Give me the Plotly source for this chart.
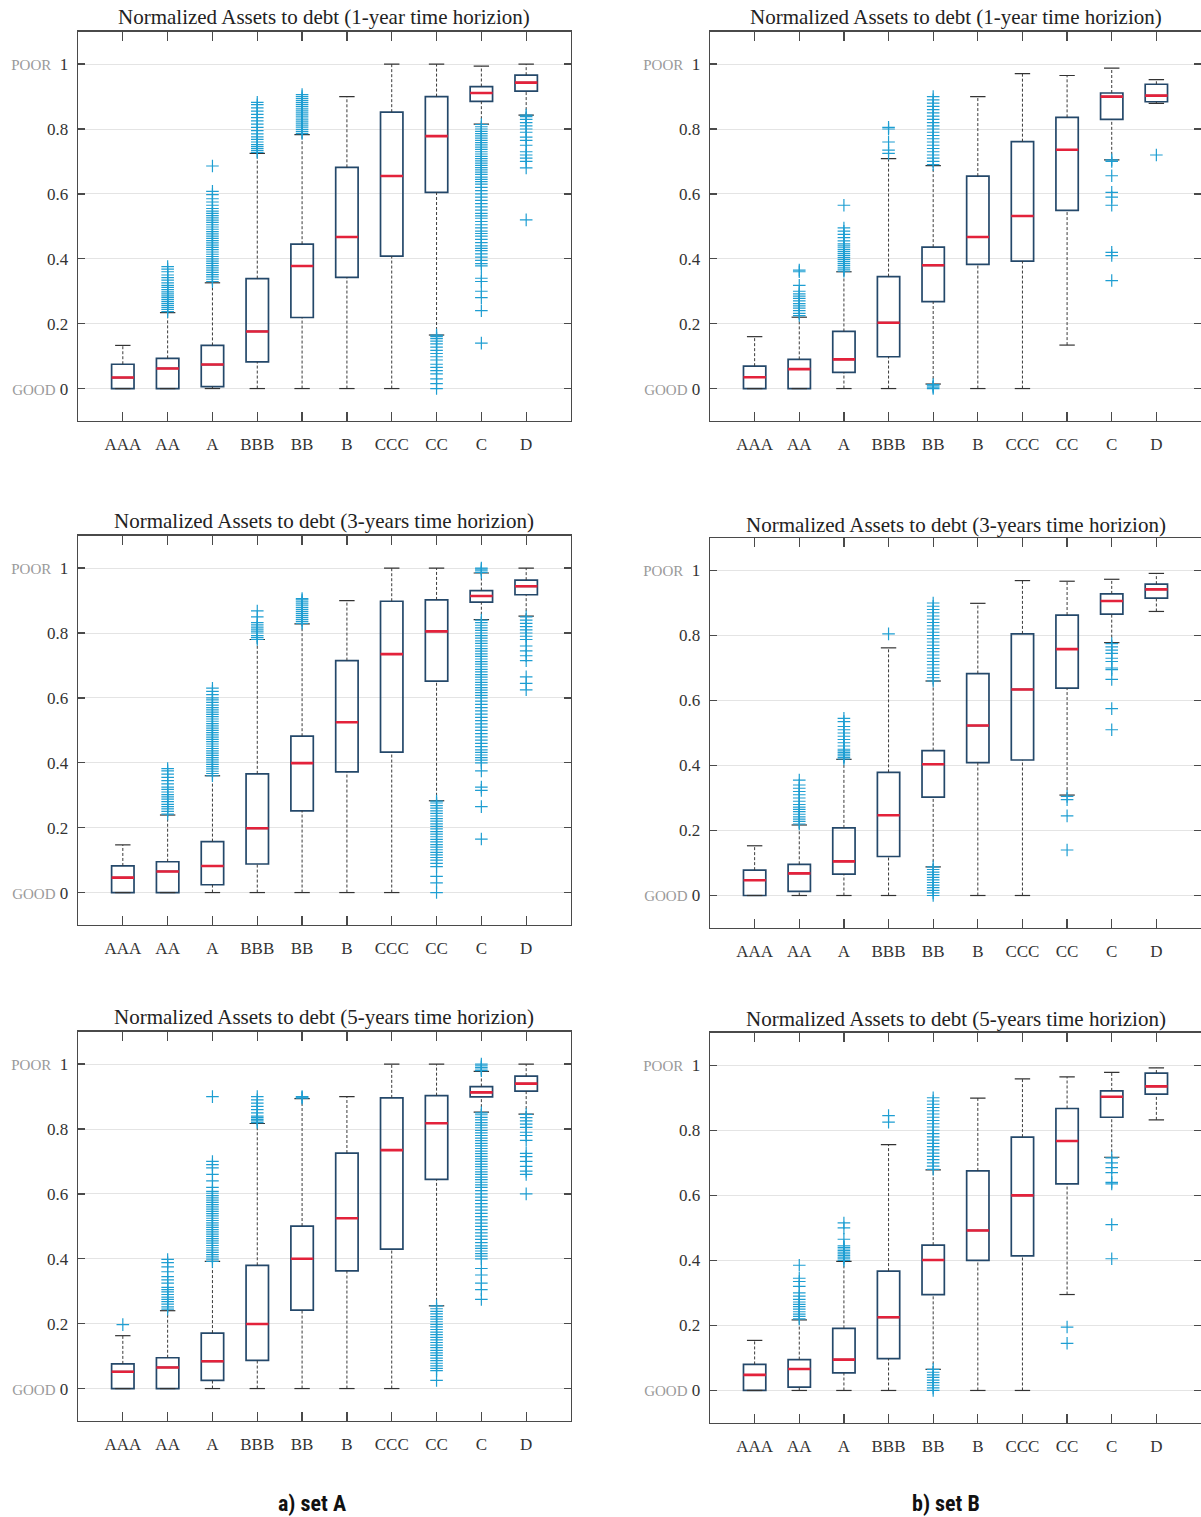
import plotly.graph_objects as go

W, H = 1201, 1517

cats = ["AAA", "AA", "A", "BBB", "BB", "B", "CCC", "CC", "C", "D"]
ytick_vals = [0, 0.2, 0.4, 0.6, 0.8, 1]
ytick_text = ["<span style='color:#9a9a9a;font-size:15px'>GOOD</span> 0", "0.2", "0.4", "0.6", "0.8",
              "<span style='color:#9a9a9a;font-size:15px'>POOR</span>  1"]

# ---------------- set A, 1-year ----------------
A1_lo = [0, 0, 0, 0, 0, 0, 0, 0.165, 0.815, 0.843]
A1_q1 = [0, 0, 0.006, 0.082, 0.219, 0.343, 0.408, 0.605, 0.885, 0.917]
A1_med = [0.034, 0.062, 0.074, 0.176, 0.378, 0.467, 0.655, 0.778, 0.911, 0.943]
A1_q3 = [0.075, 0.093, 0.133, 0.339, 0.445, 0.682, 0.852, 0.900, 0.931, 0.966]
A1_hi = [0.133, 0.234, 0.326, 0.725, 0.783, 0.900, 1.0, 1.0, 0.994, 1.0]
A1_out = {
    "AA": [0.237, 0.244, 0.25, 0.256, 0.262, 0.268, 0.274, 0.28, 0.286, 0.292, 0.298, 0.305, 0.312, 0.318,
           0.326, 0.334, 0.342, 0.35, 0.36, 0.368, 0.376],
    "A": [0.33, 0.337, 0.344, 0.351, 0.358, 0.365, 0.372, 0.379, 0.386, 0.393, 0.40, 0.407, 0.414, 0.421,
          0.428, 0.435, 0.442, 0.449, 0.456, 0.463, 0.47, 0.477, 0.484, 0.491, 0.498, 0.505, 0.512, 0.519,
          0.526, 0.533, 0.54, 0.547, 0.555, 0.565, 0.575, 0.585, 0.598, 0.608, 0.686],
    "BBB": [0.728, 0.734, 0.74, 0.746, 0.752, 0.76, 0.768, 0.776, 0.785, 0.795, 0.805, 0.815, 0.825, 0.835,
            0.845, 0.855, 0.865, 0.875, 0.882],
    "BB": [0.786, 0.792, 0.798, 0.804, 0.81, 0.816, 0.822, 0.828, 0.834, 0.84, 0.846, 0.852, 0.858, 0.864,
           0.87, 0.876, 0.882, 0.888, 0.894, 0.9, 0.906],
    "CC": [0.0, 0.015, 0.03, 0.045, 0.055, 0.065, 0.075, 0.088, 0.098, 0.108, 0.118, 0.128, 0.138, 0.146,
           0.154, 0.16, 0.165],
    "C": [0.14, 0.24, 0.28, 0.30, 0.33, 0.34, 0.378, 0.385, 0.395, 0.405, 0.415, 0.425, 0.432, 0.44, 0.45,
          0.46, 0.47, 0.478, 0.485, 0.495, 0.505, 0.515, 0.525, 0.532, 0.54, 0.55, 0.56, 0.57, 0.58, 0.59,
          0.6, 0.61, 0.62, 0.63, 0.638, 0.645, 0.652, 0.66, 0.667, 0.674, 0.681, 0.688, 0.695, 0.702, 0.709,
          0.716, 0.723, 0.73, 0.737, 0.744, 0.751, 0.758, 0.765, 0.772, 0.779, 0.786, 0.793, 0.8, 0.807, 0.814],
    "D": [0.52, 0.68, 0.70, 0.71, 0.72, 0.73, 0.75, 0.765, 0.775, 0.79, 0.80, 0.81, 0.82, 0.83, 0.838, 0.843],
}

# ---------------- set B, 1-year ----------------
B1_lo = [0, 0, 0, 0, 0.014, 0, 0, 0.134, 0.705, 0.879]
B1_q1 = [0, 0, 0.050, 0.098, 0.268, 0.383, 0.393, 0.549, 0.830, 0.884]
B1_med = [0.035, 0.060, 0.090, 0.203, 0.380, 0.467, 0.532, 0.736, 0.900, 0.903]
B1_q3 = [0.069, 0.090, 0.176, 0.345, 0.436, 0.655, 0.761, 0.836, 0.911, 0.938]
B1_hi = [0.160, 0.220, 0.360, 0.709, 0.687, 0.900, 0.971, 0.965, 0.988, 0.952]
B1_out = {
    "AA": [0.225, 0.232, 0.24, 0.248, 0.255, 0.262, 0.27, 0.278, 0.285, 0.292, 0.30, 0.318, 0.36, 0.365],
    "A": [0.362, 0.368, 0.374, 0.38, 0.386, 0.392, 0.398, 0.404, 0.41, 0.416, 0.422, 0.428, 0.434, 0.44,
          0.446, 0.455, 0.465, 0.475, 0.485, 0.495, 0.565],
    "BBB": [0.725, 0.735, 0.76, 0.80, 0.805],
    "BB": [0.0, 0.004, 0.008, 0.012, 0.69, 0.70, 0.71, 0.72, 0.73, 0.74, 0.75, 0.76, 0.77, 0.78, 0.79, 0.80,
           0.81, 0.82, 0.83, 0.84, 0.85, 0.86, 0.87, 0.88, 0.89, 0.90],
    "C": [0.705, 0.70, 0.656, 0.605, 0.59, 0.565, 0.42, 0.41, 0.333],
    "D": [0.72],
}

# ---------------- set A, 3-years ----------------
A3_lo = [0, 0, 0, 0, 0, 0, 0, 0.283, 0.841, 0.852]
A3_q1 = [0, 0, 0.024, 0.088, 0.252, 0.372, 0.433, 0.652, 0.895, 0.918]
A3_med = [0.046, 0.065, 0.082, 0.198, 0.399, 0.525, 0.735, 0.805, 0.914, 0.944]
A3_q3 = [0.082, 0.095, 0.157, 0.366, 0.482, 0.715, 0.898, 0.902, 0.931, 0.963]
A3_hi = [0.147, 0.239, 0.360, 0.780, 0.828, 0.900, 1.0, 1.0, 0.985, 1.0]
A3_out = {
    "AA": [0.242, 0.25, 0.258, 0.265, 0.272, 0.28, 0.288, 0.295, 0.302, 0.31, 0.318, 0.325, 0.335, 0.345,
           0.355, 0.365, 0.375, 0.382],
    "A": [0.36, 0.367, 0.374, 0.381, 0.388, 0.395, 0.402, 0.409, 0.416, 0.423, 0.43, 0.437, 0.444, 0.451,
          0.458, 0.465, 0.472, 0.479, 0.486, 0.493, 0.50, 0.507, 0.514, 0.521, 0.528, 0.535, 0.542, 0.549,
          0.556, 0.563, 0.57, 0.578, 0.586, 0.594, 0.60, 0.61, 0.62, 0.63],
    "BBB": [0.78, 0.786, 0.792, 0.80, 0.806, 0.812, 0.818, 0.825, 0.832, 0.85, 0.868],
    "BB": [0.83, 0.836, 0.842, 0.848, 0.854, 0.86, 0.866, 0.872, 0.878, 0.884, 0.89, 0.896, 0.902, 0.906],
    "CC": [0.0, 0.03, 0.05, 0.08, 0.09, 0.1, 0.108, 0.116, 0.124, 0.132, 0.14, 0.148, 0.156, 0.164, 0.172,
           0.18, 0.188, 0.196, 0.204, 0.212, 0.22, 0.228, 0.236, 0.244, 0.252, 0.26, 0.268, 0.276, 0.282],
    "C": [0.165, 0.265, 0.315, 0.325, 0.375, 0.40, 0.408, 0.416, 0.424, 0.432, 0.44, 0.45, 0.46, 0.47, 0.48,
          0.49, 0.50, 0.51, 0.52, 0.53, 0.54, 0.55, 0.56, 0.57, 0.58, 0.59, 0.6, 0.608, 0.616, 0.624, 0.632,
          0.64, 0.648, 0.656, 0.664, 0.672, 0.68, 0.688, 0.696, 0.704, 0.712, 0.72, 0.728, 0.736, 0.744,
          0.752, 0.76, 0.768, 0.776, 0.784, 0.792, 0.8, 0.808, 0.816, 0.824, 0.832, 0.84,
          0.987, 0.992, 0.997, 1.0],
    "D": [0.625, 0.645, 0.665, 0.715, 0.73, 0.745, 0.76, 0.78, 0.79, 0.80, 0.81, 0.82, 0.83, 0.84, 0.85],
}

# ---------------- set B, 3-years ----------------
B3_lo = [0, 0, 0, 0, 0.088, 0, 0, 0.309, 0.778, 0.874]
B3_q1 = [0, 0.013, 0.066, 0.120, 0.303, 0.409, 0.417, 0.638, 0.866, 0.915]
B3_med = [0.047, 0.068, 0.105, 0.247, 0.404, 0.523, 0.634, 0.758, 0.906, 0.942]
B3_q3 = [0.078, 0.096, 0.208, 0.379, 0.446, 0.683, 0.805, 0.863, 0.928, 0.958]
B3_hi = [0.153, 0.217, 0.419, 0.762, 0.660, 0.899, 0.969, 0.967, 0.973, 0.991]
B3_out = {
    "AA": [0.22, 0.228, 0.235, 0.242, 0.25, 0.258, 0.265, 0.272, 0.28, 0.29, 0.30, 0.31, 0.32, 0.33, 0.34,
           0.355],
    "A": [0.42, 0.425, 0.43, 0.435, 0.44, 0.445, 0.45, 0.46, 0.47, 0.48, 0.49, 0.50, 0.51, 0.52, 0.535, 0.545],
    "BBB": [0.805],
    "BB": [0.0, 0.008, 0.016, 0.024, 0.032, 0.04, 0.048, 0.056, 0.064, 0.072, 0.08, 0.088,
           0.66, 0.67, 0.68, 0.69, 0.70, 0.71, 0.72, 0.73, 0.74, 0.75, 0.76, 0.77, 0.78, 0.79, 0.80, 0.81,
           0.82, 0.83, 0.84, 0.85, 0.86, 0.87, 0.88, 0.89, 0.90],
    "CC": [0.305, 0.295, 0.245, 0.14],
    "C": [0.775, 0.765, 0.755, 0.745, 0.73, 0.72, 0.70, 0.695, 0.665, 0.575, 0.51],
}

# ---------------- set A, 5-years ----------------
A5_lo = [0, 0, 0, 0, 0, 0, 0, 0.255, 0.852, 0.846]
A5_q1 = [0, 0, 0.025, 0.087, 0.242, 0.363, 0.430, 0.645, 0.899, 0.917]
A5_med = [0.052, 0.065, 0.084, 0.199, 0.400, 0.525, 0.735, 0.818, 0.913, 0.940]
A5_q3 = [0.076, 0.095, 0.171, 0.380, 0.501, 0.726, 0.896, 0.903, 0.931, 0.963]
A5_hi = [0.163, 0.240, 0.392, 0.817, 0.894, 0.900, 1.0, 1.0, 0.978, 1.0]
A5_out = {
    "AAA": [0.197],
    "AA": [0.245, 0.252, 0.26, 0.268, 0.275, 0.282, 0.29, 0.298, 0.305, 0.312, 0.325, 0.335, 0.345, 0.36,
           0.375, 0.388, 0.398],
    "A": [0.392, 0.399, 0.406, 0.413, 0.42, 0.427, 0.434, 0.441, 0.448, 0.455, 0.462, 0.469, 0.476, 0.483,
          0.49, 0.497, 0.504, 0.511, 0.518, 0.525, 0.532, 0.539, 0.546, 0.553, 0.56, 0.567, 0.574, 0.581,
          0.588, 0.595, 0.602, 0.608, 0.62, 0.64, 0.66, 0.68, 0.69, 0.70, 0.90],
    "BBB": [0.82, 0.825, 0.83, 0.835, 0.84, 0.85, 0.86, 0.87, 0.88, 0.89, 0.90],
    "BB": [0.895, 0.898, 0.90],
    "CC": [0.025, 0.055, 0.062, 0.07, 0.078, 0.086, 0.094, 0.102, 0.11, 0.118, 0.126, 0.134, 0.142, 0.15,
           0.158, 0.166, 0.174, 0.182, 0.19, 0.198, 0.206, 0.214, 0.222, 0.23, 0.238, 0.246, 0.255],
    "C": [0.275, 0.305, 0.325, 0.35, 0.37, 0.40, 0.408, 0.416, 0.424, 0.432, 0.44, 0.45, 0.46, 0.47, 0.48,
          0.49, 0.50, 0.51, 0.52, 0.53, 0.54, 0.55, 0.56, 0.57, 0.58, 0.59, 0.6, 0.61, 0.62, 0.628, 0.636,
          0.644, 0.652, 0.66, 0.668, 0.676, 0.684, 0.692, 0.70, 0.708, 0.716, 0.724, 0.732, 0.74, 0.748,
          0.756, 0.764, 0.772, 0.78, 0.788, 0.796, 0.804, 0.812, 0.82, 0.828, 0.836, 0.844, 0.85,
          0.98, 0.985, 0.99, 0.995, 1.0],
    "D": [0.60, 0.66, 0.67, 0.685, 0.70, 0.715, 0.725, 0.765, 0.78, 0.79, 0.805, 0.815, 0.825, 0.835, 0.845],
}

# ---------------- set B, 5-years ----------------
B5_lo = [0, 0, 0, 0, 0.065, 0, 0, 0.295, 0.717, 0.832]
B5_q1 = [0, 0.010, 0.054, 0.098, 0.295, 0.400, 0.414, 0.635, 0.840, 0.911]
B5_med = [0.048, 0.066, 0.095, 0.225, 0.401, 0.492, 0.600, 0.767, 0.903, 0.935]
B5_q3 = [0.080, 0.095, 0.191, 0.367, 0.447, 0.675, 0.779, 0.867, 0.921, 0.976]
B5_hi = [0.154, 0.217, 0.397, 0.756, 0.678, 0.899, 0.958, 0.964, 0.978, 0.992]
B5_out = {
    "AA": [0.22, 0.228, 0.235, 0.242, 0.25, 0.258, 0.265, 0.272, 0.28, 0.29, 0.30, 0.32, 0.335, 0.345, 0.385],
    "A": [0.40, 0.405, 0.41, 0.415, 0.42, 0.425, 0.43, 0.435, 0.44, 0.445, 0.465, 0.50, 0.515],
    "BBB": [0.825, 0.845],
    "BB": [0.0, 0.008, 0.016, 0.024, 0.032, 0.04, 0.048, 0.056, 0.065,
           0.68, 0.69, 0.70, 0.71, 0.72, 0.73, 0.74, 0.75, 0.76, 0.77, 0.78, 0.79, 0.80, 0.81, 0.82, 0.83,
           0.84, 0.85, 0.86, 0.87, 0.88, 0.89, 0.90],
    "CC": [0.195, 0.145],
    "C": [0.715, 0.70, 0.685, 0.67, 0.64, 0.635, 0.51, 0.405],
}

titles = [
    "Normalized Assets to debt (1-year time horizion)",
    "Normalized Assets to debt (1-year time horizion)",
    "Normalized Assets to debt (3-years time horizion)",
    "Normalized Assets to debt (3-years time horizion)",
    "Normalized Assets to debt (5-years time horizion)",
    "Normalized Assets to debt (5-years time horizion)",
]
panels = [
    (A1_lo, A1_q1, A1_med, A1_q3, A1_hi, A1_out),
    (B1_lo, B1_q1, B1_med, B1_q3, B1_hi, B1_out),
    (A3_lo, A3_q1, A3_med, A3_q3, A3_hi, A3_out),
    (B3_lo, B3_q1, B3_med, B3_q3, B3_hi, B3_out),
    (A5_lo, A5_q1, A5_med, A5_q3, A5_hi, A5_out),
    (B5_lo, B5_q1, B5_med, B5_q3, B5_hi, B5_out),
]

# plot-area geometry in pixels: (left, right, top, bottom, title_y)
geom = [
    (78, 571, 31.7, 421, 17),
    (710, 1203, 31.7, 421, 17),
    (78, 571, 535.7, 925, 521),
    (710, 1203, 538, 928, 525),
    (78, 571, 1031.7, 1421, 1017),
    (710, 1203, 1032.7, 1423, 1019),
]

SERIF = "Liberation Serif, Times New Roman, serif"
BOXC = "#24486a"
MEDC = "#e3223b"
OUTC = "#1e9ed2"
AXC = "#4a4a4a"

fig = go.Figure()
layout = {}
annotations = []

for i, (lo, q1, med, q3, hi, outd) in enumerate(panels):
    sfx = "" if i == 0 else str(i + 1)
    xr, yr = "x" + sfx, "y" + sfx

    # whiskers (dashed)
    wx, wy = [], []
    for c, a, b, c3, d in zip(cats, lo, q1, q3, hi):
        wx += [c, c, None, c, c, None]
        wy += [a, b, None, c3, d, None]
    fig.add_trace(go.Scatter(x=wx, y=wy, mode="lines", xaxis=xr, yaxis=yr,
                             line=dict(color="#3a3a3a", width=1, dash="3px,2px"), hoverinfo="skip"))
    # whisker caps
    fig.add_trace(go.Scatter(x=cats + cats, y=list(lo) + list(hi), mode="markers", xaxis=xr, yaxis=yr,
                             marker=dict(symbol="line-ew", size=11, line=dict(width=1.2, color="#333333")),
                             hoverinfo="skip"))
    # boxes
    fig.add_trace(go.Box(x=cats, q1=q1, median=med, q3=q3, lowerfence=q1, upperfence=q3,
                         width=0.5, whiskerwidth=0, fillcolor="rgba(0,0,0,0)",
                         line=dict(color=BOXC, width=1.7), boxpoints=False, xaxis=xr, yaxis=yr,
                         hoverinfo="skip"))
    # medians
    fig.add_trace(go.Box(x=cats, q1=med, median=med, q3=med, lowerfence=med, upperfence=med,
                         width=0.5, whiskerwidth=0, fillcolor="rgba(0,0,0,0)",
                         line=dict(color=MEDC, width=2.6), boxpoints=False, xaxis=xr, yaxis=yr,
                         hoverinfo="skip"))
    # outliers
    ox, oy = [], []
    for c, vals in outd.items():
        ox += [c] * len(vals)
        oy += vals
    fig.add_trace(go.Scatter(x=ox, y=oy, mode="markers", xaxis=xr, yaxis=yr,
                             marker=dict(symbol="cross-thin", size=9, line=dict(width=1.2, color=OUTC)),
                             hoverinfo="skip"))

    l, r, t, b, ty = geom[i]
    layout["xaxis" + sfx] = dict(
        domain=[l / W, min(r / W, 1.0)], anchor=yr, type="category",
        categoryorder="array", categoryarray=cats, range=[-1, 10],
        showline=True, linecolor=AXC, linewidth=1.3, mirror="ticks",
        ticks="inside", ticklen=9, tickwidth=1.3, tickcolor=AXC,
        showgrid=False, zeroline=False, ticklabelstandoff=7,
        tickfont=dict(family=SERIF, size=17, color="#333333"),
    )
    layout["yaxis" + sfx] = dict(
        domain=[1 - b / H, 1 - t / H], anchor=xr, range=[-0.1, 1.1],
        tickvals=ytick_vals, ticktext=ytick_text,
        showline=True, linecolor=AXC, linewidth=1.3, mirror="ticks",
        ticks="inside", ticklen=7, tickwidth=1.3, tickcolor=AXC,
        showgrid=True, gridcolor="#e4e4e4", gridwidth=1, zeroline=False,
        ticklabelstandoff=5,
        tickfont=dict(family=SERIF, size=17, color="#333333"),
    )
    annotations.append(dict(text=titles[i], xref="paper", yref="paper",
                            x=(l + min(r, W)) / 2 / W, y=1 - ty / H, xanchor="center", yanchor="middle",
                            showarrow=False, font=dict(family=SERIF, size=21, color="#222222")))

for txt, cx in [("a) set A", 312), ("b) set B", 946)]:
    annotations.append(dict(text="<b>" + txt + "</b>", xref="paper", yref="paper", x=cx / W, y=1 - 1503 / H,
                            xanchor="center", yanchor="middle", showarrow=False,
                            font=dict(family="Liberation Sans Narrow, Roboto Condensed, Arial Narrow, sans-serif",
                                      size=22, color="#111111")))

fig.update_layout(
    width=W, height=H, margin=dict(l=0, r=0, t=0, b=0),
    paper_bgcolor="white", plot_bgcolor="white", showlegend=False,
    annotations=annotations, boxmode="overlay", hovermode=False,
    **layout,
)

fig.write_html("out.html", config={"displayModeBar": False, "staticPlot": True},
               post_script="document.body.style.margin='0';document.body.style.padding='0';"
                           "document.documentElement.style.overflow='hidden';")
